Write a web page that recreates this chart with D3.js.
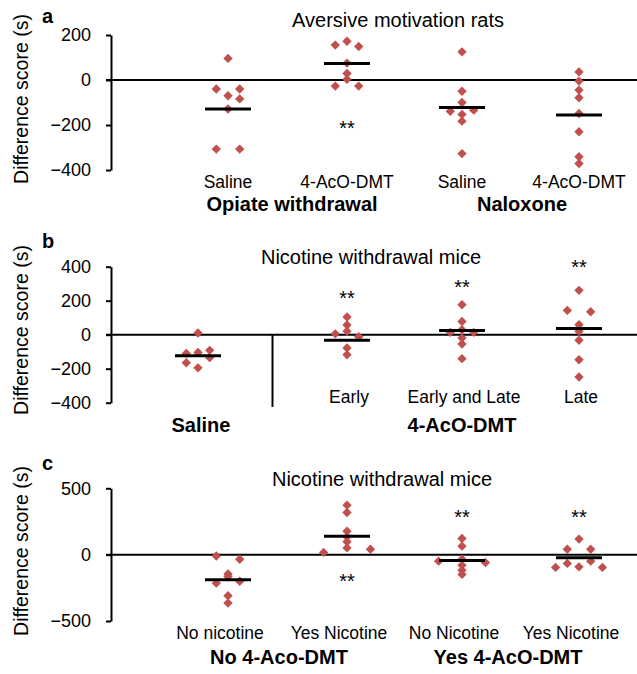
<!DOCTYPE html>
<html lang="en">
<head>
<meta charset="UTF-8">
<title>Difference scores</title>
<script src="https://d3js.org/d3.v7.min.js"></script>
<style>
    body { margin: 0; background: white; }
    svg text { font-family: "Liberation Sans", Arial, Helvetica, sans-serif; fill: black; }
</style>
</head>
<body>
<div id="svg_area"></div>
<script>
// ---- panel a : aversive motivation rats ----
const aTitle = "Aversive motivation rats";
const aCategories = ["Saline", "4-AcO-DMT", "Saline", "4-AcO-DMT"];
const aGroups = ["Opiate withdrawal", "Naloxone"];
const aValues = [
    [96, -40, -40, -70, -84, -129, -307, -307],
    [172, 155, 149, 75, 29, 3, -27, -27],
    [125, -50, -100, -139, -134, -153, -183, -327],
    [36, -5, -45, -79, -149, -230, -341, -371]
];
const aCols = [
    [0, -1, 1, 0, 1, 0, -1, 1],
    [0, -1, 1, 0, 0, 0, -1, 1],
    [0, 0, 0, -1, 1, 0, 0, 0],
    [0, 0, 0, 0, 0, 0, 0, 0]
];
const aMeans = [-129, 73, -122, -156];
const aStars = [null, -195, null, null];
const aTicks = [200, 0, -200, -400];

// ---- panel b : nicotine withdrawal mice ----
const bTitle = "Nicotine withdrawal mice";
const bCategories = ["", "Early", "Early and Late", "Late"];
const bGroups = ["Saline", "4-AcO-DMT"];
const bValues = [
    [10, -110, -105, -92, -135, -165, -195],
    [104, 57, 20, 5, -12, -78, -118],
    [176, 78, 29, 14, 14, -20, -55, -141],
    [261, 143, 135, 59, 20, -33, -147, -249]
];
const bCols = [
    [0, -1, 0, 1, 1, -1, 0],
    [0, 0, 0, -1, 1, 0, 0],
    [0, 0, 0, -1, 1, 0, 0, 0],
    [0, -1, 1, 0, 0, 0, 0, 0]
];
const bMeans = [-124, -33, 25, 37];
const bStars = [null, 245, 310, 422];
const bTicks = [400, 200, 0, -200, -400];

// ---- panel c : nicotine withdrawal mice ----
const cTitle = "Nicotine withdrawal mice";
const cCategories = ["No nicotine", "Yes Nicotine", "No Nicotine", "Yes Nicotine"];
const cGroups = ["No 4-Aco-DMT", "Yes 4-AcO-DMT"];
const cValues = [
    [-10, -35, -145, -165, -215, -200, -310, -365],
    [373, 318, 177, 134, 97, 51, 41, 17],
    [122, 64, -49, -59, -34, -79, -117, -149],
    [117, 41, 41, -66, -49, -92, -96, -96]
];
const cCols = [
    [-1, 1, 0, 0, -1, 1, 0, 0],
    [0, 0, 0, 0, 0, 0, 2, -2],
    [0, 0, -2, 2, 0, 0, 0, 0],
    [0, -1, 1, -1, 1, 0, -2, 2]
];
const cMeans = [-190, 139, -44, -24];
const cStars = [null, -167, 318, 315];
const cTicks = [500, 0, -500];

const W = 637, H = 674;
const axisX = 111;
const red = "#C0504D";

const svg = d3.select("#svg_area").append("svg")
    .attr("width", W).attr("height", H);

function drawPanel(p) {
    const g = svg.append("g");
    const y = d3.scaleLinear().domain(p.domain).range(p.yRange);
    const x = d3.scaleOrdinal().domain(d3.range(4)).range(p.xPos);
    const step = 11.7;

    // y axis
    g.append("g")
        .attr("transform", "translate(" + axisX + ",0)")
        .call(d3.axisLeft(y).tickValues(p.ticks).tickSize(5).tickSizeOuter(0).tickPadding(15))
        .call(a => a.selectAll("path, line").attr("stroke", "black").attr("stroke-width", 2))
        .call(a => a.selectAll("text").style("font-size", "18px").attr("font-family", null));

    // zero line
    g.append("line")
        .attr("x1", axisX - 5).attr("x2", W)
        .attr("y1", y(0)).attr("y2", y(0))
        .attr("stroke", "black").attr("stroke-width", 2);

    if (p.divider) {
        const dx = (x(0) + x(1)) / 2;
        g.append("line")
            .attr("x1", dx).attr("x2", dx)
            .attr("y1", y(0)).attr("y2", y(p.domain[0] - 25))
            .attr("stroke", "black").attr("stroke-width", 2);
    }

    // points
    p.values.forEach(function(vals, i) {
        g.append("g").selectAll("path")
            .data(vals)
            .enter()
            .append("path")
            .attr("d", d3.symbol().type(d3.symbolSquare).size(44))
            .attr("transform", (d, j) => "translate(" + (x(i) + p.cols[i][j] * step) + "," + y(d) + ") rotate(45)")
            .attr("fill", red);
    });

    // mean bars
    g.append("g").selectAll("line")
        .data(p.means)
        .enter()
        .append("line")
        .attr("x1", (d, i) => x(i) - 23).attr("x2", (d, i) => x(i) + 23)
        .attr("y1", d => y(d)).attr("y2", d => y(d))
        .attr("stroke", "black").attr("stroke-width", 3);

    // significance stars
    g.append("g").selectAll("text")
        .data(p.stars)
        .enter()
        .filter(d => d !== null)
        .append("text")
        .attr("x", (d, i) => x(p.stars.indexOf(d)))
        .attr("y", d => y(d) + 11.5)
        .attr("text-anchor", "middle")
        .style("font-size", "20px")
        .text("**");

    // category labels
    g.append("g").selectAll("text")
        .data(p.categories)
        .enter()
        .append("text")
        .attr("x", (d, i) => x(i) + p.labelShift)
        .attr("y", p.catY)
        .attr("text-anchor", "middle")
        .style("font-size", "17.5px")
        .text(d => d);

    // group labels
    g.append("g").selectAll("text")
        .data(p.groups)
        .enter()
        .append("text")
        .attr("x", (d, i) => p.groupX[i])
        .attr("y", p.groupY)
        .attr("text-anchor", "middle")
        .style("font-size", "20px")
        .style("font-weight", "bold")
        .text(d => d);

    // title
    g.append("text")
        .attr("x", p.titleX).attr("y", p.titleY)
        .attr("text-anchor", "middle")
        .style("font-size", "20px")
        .text(p.title);

    // panel letter
    g.append("text")
        .attr("x", 42).attr("y", p.letterY)
        .style("font-size", "20px").style("font-weight", "bold")
        .text(p.letter);

    // y label
    g.append("text")
        .attr("transform", "translate(28," + p.ylabelY + ") rotate(-90)")
        .attr("text-anchor", "middle")
        .style("font-size", "19.5px")
        .text("Difference score (s)");
}

drawPanel({
    letter: "a", title: aTitle, titleX: 398, titleY: 27, letterY: 23, ylabelY: 99,
    domain: [-400, 200], yRange: [170, 35], ticks: aTicks,
    xPos: [228, 347, 462, 579], values: aValues, cols: aCols, means: aMeans, stars: aStars,
    categories: aCategories, catY: 188, labelShift: 0,
    groups: aGroups, groupX: [292, 522], groupY: 211
});

drawPanel({
    letter: "b", title: bTitle, titleX: 371, titleY: 264, letterY: 248, ylabelY: 330,
    domain: [-400, 400], yRange: [402.7, 266.7], ticks: bTicks, divider: true,
    xPos: [198, 347, 462, 579], values: bValues, cols: bCols, means: bMeans, stars: bStars,
    categories: bCategories, catY: 403, labelShift: 2,
    groups: bGroups, groupX: [201, 462], groupY: 432
});

drawPanel({
    letter: "c", title: cTitle, titleX: 382, titleY: 486, letterY: 470, ylabelY: 551,
    domain: [-500, 500], yRange: [621, 488.3], ticks: cTicks,
    xPos: [228, 347, 462, 579], values: cValues, cols: cCols, means: cMeans, stars: cStars,
    categories: cCategories, catY: 639, labelShift: -8,
    groups: cGroups, groupX: [279, 508], groupY: 664
});
</script>
</body>
</html>
